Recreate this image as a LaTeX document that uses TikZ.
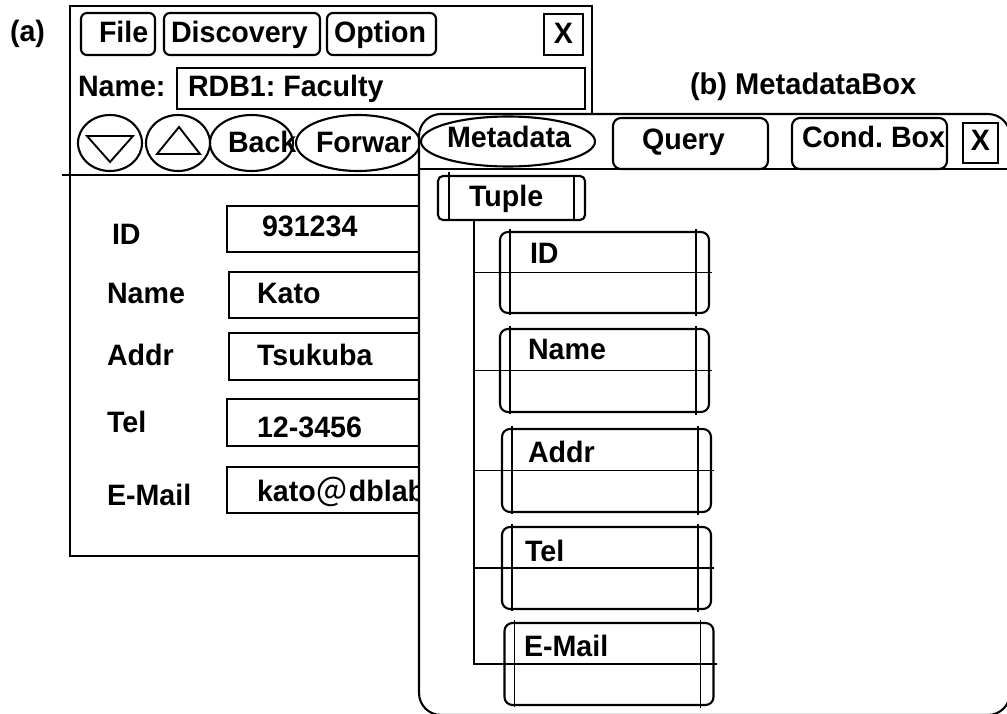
\documentclass[tikz,border=0pt]{standalone}
\usepackage{fontspec}
\setmainfont{Liberation Sans}[FakeStretch=0.97]
\newfontfamily\cjkfont{Noto Sans CJK JP}
\usetikzlibrary{shapes.geometric,calc}
\frenchspacing

\begin{document}
\begin{tikzpicture}[x=1pt,y=-1pt,line width=2.1pt,
  txt/.style={anchor=base west,inner sep=0pt,outer sep=0pt,
              font=\fontsize{29.5}{31}\selectfont\bfseries},
  ctxt/.style={txt,anchor=base},
  sqbox/.style={draw,rectangle,inner sep=0pt,outer sep=0pt},
  rbox/.style={sqbox,rounded corners=#1},
  rbox/.default=6pt,
  oval/.style={draw,ellipse,inner sep=0pt,outer sep=0pt},
  fieldbox/.style={rbox=8pt,minimum width=209pt},
  inner/.style={line width=1.9pt}]

\useasboundingbox (0,0) rectangle (1007,714);
\clip (0,0) rectangle (1007,714);

% ---------- window (a): record browser ----------
\node[txt] (labA) at (10,42) {(a)};
\node[sqbox,minimum width=522pt,minimum height=550pt] (winA) at (331,281) {};

% menu bar
\node[rbox,minimum width=74pt,minimum height=42pt]  (mFile) at (118,34) {};
\node[rbox,minimum width=156pt,minimum height=42pt] (mDisc) at (242,34) {};
\node[rbox,minimum width=109pt,minimum height=42pt] (mOpt)  at (381.5,34) {};
\node[sqbox,minimum width=39pt,minimum height=41pt] (closeA) at (563.5,34.5) {};
\node[txt] at (99,43) {File};
\node[txt] at (171,43) {Discovery};
\node[txt] at (334,43) {Option};
\node[ctxt] at (closeA.center |- 0,44) {X};

% table name
\node[txt] (nameLab) at (78,97) {Name:};
\node[sqbox,minimum width=408pt,minimum height=41pt] (nameField) at (381,88.5) {};
\node[txt] at (188,97) {RDB1: Faculty};

% navigation buttons
\node[oval,minimum width=64pt,minimum height=56pt]  (bDown) at (110,143) {};
\node[oval,minimum width=64pt,minimum height=56pt]  (bUp)   at (178,143) {};
\node[oval,minimum width=83pt,minimum height=56pt]  (bBack) at (251.5,143) {};
\node[oval,minimum width=124pt,minimum height=56pt] (bFwd)  at (358,143) {};
\draw[inner] ($(bDown)+(-23,-7)$) -- ($(bDown)+(23,-7)$) -- ($(bDown)+(0,19)$) -- cycle;
\draw[inner] ($(bUp)+(-21,11)$) -- ($(bUp)+(22,11)$) -- ($(bUp)+(1,-16)$) -- cycle;
\node[txt] at (228,153) {Back};
\node[txt] at (316,153) {Forwar};

\coordinate (sepA1) at (62,175);
\coordinate (sepA2) at (600,175);
\draw (sepA1) -- (sepA2);

% record fields
\node[txt] at (112,244) {ID};
\node[txt] at (107,303) {Name};
\node[txt] at (107,365) {Addr};
\node[txt] at (107,432) {Tel};
\node[txt] at (107,505) {E-Mail};
\node[sqbox,minimum width=373pt,minimum height=46pt] (vID)   at (413.5,229) {};
\node[sqbox,minimum width=371pt,minimum height=46pt] (vName) at (414.5,295) {};
\node[sqbox,minimum width=371pt,minimum height=47pt] (vAddr) at (414.5,356.5) {};
\node[sqbox,minimum width=373pt,minimum height=47pt] (vTel)  at (413.5,422.5) {};
\node[sqbox,minimum width=373pt,minimum height=46pt] (vMail) at (413.5,490) {};
\node[txt] at (262,237) {931234};
\node[txt] at (257,303) {Kato};
\node[txt] at (257,365) {Tsukuba};
\node[txt] at (257,437) {12-3456};
\node[txt] at (257,501) {kato\raisebox{-3pt}{\cjkfont\mdseries\fontsize{33}{33}\selectfont ＠}dblab};

% ---------- window (b): MetadataBox ----------
\node[txt,font=\fontsize{30}{32}\selectfont\bfseries] (labB) at (690,95) {(b) MetadataBox};
\node[rbox=22pt,fill=white,minimum width=591pt,minimum height=601pt] (winB) at (714.5,414.5) {};

% tabs
\node[oval,minimum width=174pt,minimum height=50pt] (tMeta) at (508,141.5) {};
\node[rbox=8pt,minimum width=155pt,minimum height=51pt] (tQuery) at (690.5,143.5) {};
\node[rbox=8pt,minimum width=155pt,minimum height=51pt] (tCond)  at (869.5,143.5) {};
\node[sqbox,minimum width=35pt,minimum height=40pt] (closeB) at (980.5,143) {};
\node[txt] at (447,148) {Metadata};
\node[txt] at (642,150) {Query};
\node[txt] at (802,148) {Cond. Box};
\node[ctxt] at (closeB.center |- 0,151) {X};
\coordinate (sepB) at (1010,169);
\draw (winB.west |- sepB) -- (sepB);

% tuple root
\node[rbox=5pt,minimum width=147pt,minimum height=44pt] (tuple) at (511.5,198) {};
\draw[inner] ($(tuple.north west)+(11,-4)$) -- ($(tuple.south west)+(11,0)$);
\draw[inner] ($(tuple.north east)+(-11,0)$) -- ($(tuple.south east)+(-11,0)$);
\node[txt] at (469,207) {Tuple};
\coordinate (trunk) at ($(tuple.south west)+(36,0)$);

% attribute boxes hanging from the tuple
\foreach \n/\cx/\cy/\h/\lab/\lx/\ly in {
    ID/604.5/272.5/81/ID/530/263,
    Name/604.5/370.5/83/Name/528/359,
    Addr/606.5/470.5/83/Addr/528/462,
    Tel/606.5/568/82/Tel/525/561,
    Mail/609/664/82/E-Mail/524/656}{
  \node[fieldbox,minimum height=\h pt] (f\n) at (\cx,\cy) {};
  \draw[inner] ($(f\n.north west)+(10,-3)$) -- ($(f\n.south west)+(10,2)$);
  \draw[inner] ($(f\n.north east)+(-13,-3)$) -- ($(f\n.south east)+(-13,3)$);
  \draw[inner] (trunk |- f\n.west) -- ($(f\n.east)+(3,0)$);
  \node[txt] at (\lx,\ly) {\lab};
}
\draw[inner] (trunk) -- (trunk |- fMail.west) -- (fMail.west);

\end{tikzpicture}
\end{document}
